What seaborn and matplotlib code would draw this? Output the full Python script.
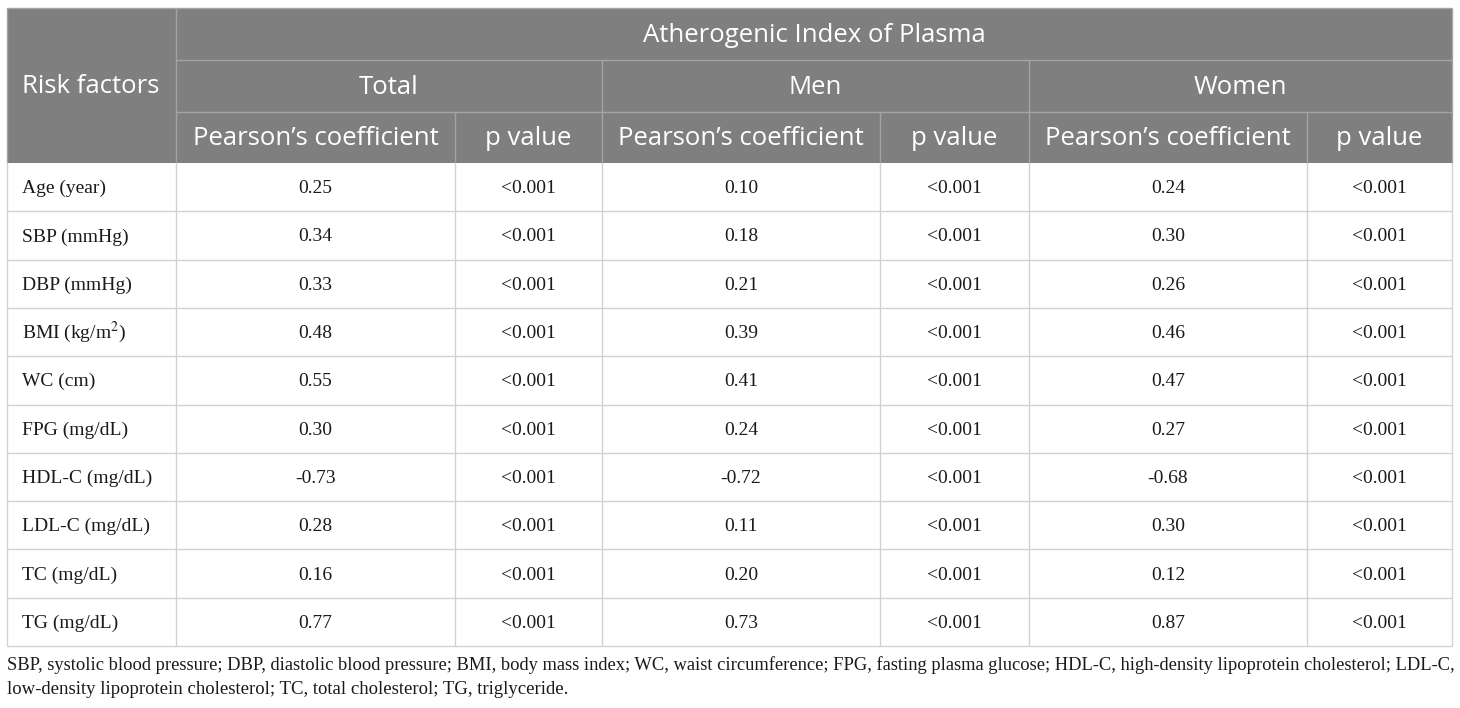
import matplotlib
matplotlib.use("Agg")
import matplotlib.pyplot as plt
import seaborn as sns
from matplotlib.patches import Rectangle

# table content
factors = ["Age (year)", "SBP (mmHg)", "DBP (mmHg)", "BMI (kg/m$^2$)", "WC (cm)",
           "FPG (mg/dL)", "HDL-C (mg/dL)", "LDL-C (mg/dL)", "TC (mg/dL)", "TG (mg/dL)"]
total_r = ["0.25", "0.34", "0.33", "0.48", "0.55", "0.30", "-0.73", "0.28", "0.16", "0.77"]
total_p = ["<0.001"] * 10
men_r = ["0.10", "0.18", "0.21", "0.39", "0.41", "0.24", "-0.72", "0.11", "0.20", "0.73"]
men_p = ["<0.001"] * 10
women_r = ["0.24", "0.30", "0.26", "0.46", "0.47", "0.27", "-0.68", "0.30", "0.12", "0.87"]
women_p = ["<0.001"] * 10

title = "Atherogenic Index of Plasma"
groups = ["Total", "Men", "Women"]
subcols = ["Pearson\u2019s coefficient", "p value"]
foot_line1 = ("SBP, systolic blood pressure; DBP, diastolic blood pressure; BMI, body mass index; "
              "WC, waist circumference; FPG, fasting plasma glucose; HDL-C, high-density lipoprotein "
              "cholesterol; LDL-C,")
foot_line2 = "low-density lipoprotein cholesterol; TC, total cholesterol; TG, triglyceride."

sns.set_style("white")
plt.rcParams["mathtext.fontset"] = "stix"

W, H = 1460, 708
fig = plt.figure(figsize=(W / 100, H / 100), dpi=100)
ax = fig.add_axes([0, 0, 1, 1])
ax.set_xlim(0, W)
ax.set_ylim(H, 0)
ax.axis("off")

# layout (pixels)
xs = [7, 176, 455, 602, 880, 1029, 1307, 1452]
hy = [8, 60, 112, 163]
row_h = 48.3
body_top = hy[-1]
n = len(factors)
body_bottom = body_top + n * row_h

head_bg = "#7f7f7f"
head_line = "#a3a3a3"
body_line = "#d2d2d2"
sans = "Open Sans"
serif = "Liberation Serif"
ink = "#1a1a1a"

# header background
ax.add_patch(Rectangle((xs[0], hy[0]), xs[-1] - xs[0], hy[-1] - hy[0],
                       facecolor=head_bg, edgecolor="none", zorder=1))

def hline(x0, x1, y, c, lw=1.0):
    ax.plot([x0, x1], [y, y], color=c, lw=lw, zorder=3, solid_capstyle="butt")

def vline(x, y0, y1, c, lw=1.0):
    ax.plot([x, x], [y0, y1], color=c, lw=lw, zorder=3, solid_capstyle="butt")

# header grid
hline(xs[0], xs[-1], hy[0], head_line)
hline(xs[1], xs[-1], hy[1], head_line)
hline(xs[1], xs[-1], hy[2], head_line)
vline(xs[0], hy[0], hy[3], head_line)
vline(xs[-1], hy[0], hy[3], head_line)
vline(xs[1], hy[0], hy[3], head_line)
for i in (3, 5):
    vline(xs[i], hy[1], hy[3], head_line)
for i in (2, 4, 6):
    vline(xs[i], hy[2], hy[3], head_line)

hs = 18.5
ax.text((xs[1] + xs[-1]) / 2, (hy[0] + hy[1]) / 2 + 1, title, color="white",
        fontsize=hs, family=sans, ha="center", va="center", zorder=4)
ax.text(xs[0] + 15, (hy[0] + hy[3]) / 2 + 1, "Risk factors", color="white",
        fontsize=hs, family=sans, ha="left", va="center", zorder=4)
for g, name in enumerate(groups):
    x0, x1, x2 = xs[1 + 2 * g], xs[2 + 2 * g], xs[3 + 2 * g]
    ax.text((x0 + x2) / 2, (hy[1] + hy[2]) / 2 + 1, name, color="white",
            fontsize=hs, family=sans, ha="center", va="center", zorder=4)
    ax.text((x0 + x1) / 2, (hy[2] + hy[3]) / 2 + 1, subcols[0], color="white",
            fontsize=hs, family=sans, ha="center", va="center", zorder=4)
    ax.text((x1 + x2) / 2, (hy[2] + hy[3]) / 2 + 1, subcols[1], color="white",
            fontsize=hs, family=sans, ha="center", va="center", zorder=4)

# body grid
for i in range(1, n + 1):
    hline(xs[0], xs[-1], body_top + i * row_h, body_line)
for x in xs:
    vline(x, body_top, body_bottom, body_line)

bs = 14
cols = [total_r, total_p, men_r, men_p, women_r, women_p]
for r in range(n):
    yb = body_top + (r + 0.5) * row_h + 6
    ax.text(xs[0] + 15, yb, factors[r], fontsize=bs, family=serif,
            ha="left", va="baseline", color=ink, zorder=4)
    for c, vals in enumerate(cols):
        ax.text((xs[1 + c] + xs[2 + c]) / 2, yb, vals[r], fontsize=bs, family=serif,
                ha="center", va="baseline", color=ink, zorder=4)

# footnote: first line sized to fill the table width (justified look)
fs = 13.5
fig.canvas.draw()
renderer = fig.canvas.get_renderer()
t1 = ax.text(xs[0], 670, foot_line1, fontsize=fs, family=serif,
             ha="left", va="baseline", color=ink)
target = xs[-1] - xs[0] - 1
for _ in range(3):
    natural = t1.get_window_extent(renderer).width
    t1.set_fontsize(min(t1.get_fontsize() * target / natural, 14.3))
ax.text(xs[0], 694, foot_line2, fontsize=fs, family=serif,
        ha="left", va="baseline", color=ink)

fig.savefig("out.png", dpi=100, facecolor="white")
